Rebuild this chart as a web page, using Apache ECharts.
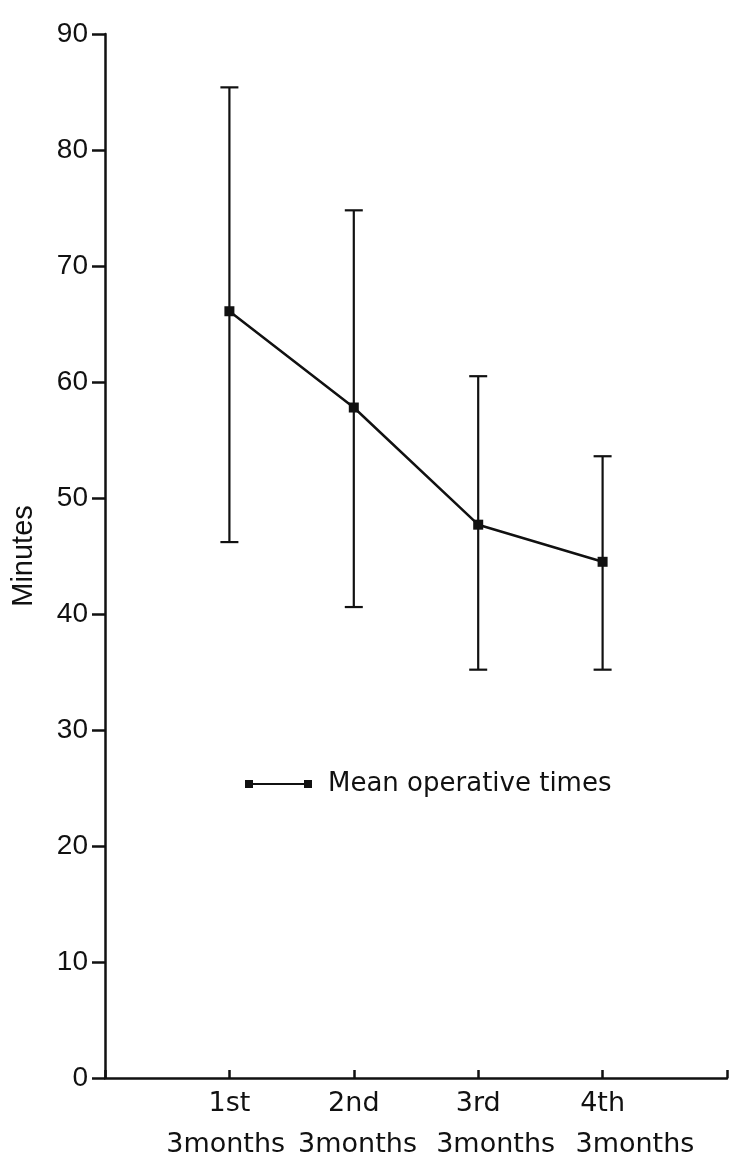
<!DOCTYPE html>
<html>
<head>
<meta charset="utf-8">
<script src="https://cdn.jsdelivr.net/npm/echarts@6/dist/echarts.min.js"></script>
<style>
html,body{margin:0;padding:0;background:#fff;}
#chart{width:730px;height:1158px;}
</style>
</head>
<body>
<div id="chart"></div>
<script>
const categories = ['1st', '2nd', '3rd', '4th'];
const periodLabels = ['3months', '3months', '3months', '3months'];
const meanTimes = [66.1, 57.8, 47.7, 44.5];
const upperBounds = [85.4, 74.8, 60.5, 53.6];
const lowerBounds = [46.2, 40.6, 35.2, 35.2];
const seriesName = 'Mean operative times';
const yAxisName = 'Minutes';

// label position tweaks for the second text row (presentation only)
const periodLabelPos = [0.97, 2.03, 3.14, 4.26];

const meanData = meanTimes.map((v, i) => [i + 1, v]);
const errData = meanTimes.map((v, i) => [i + 1, lowerBounds[i], upperBounds[i]]);

const chart = echarts.init(document.getElementById('chart'), null, {renderer: 'canvas'});
const ink = '#111';

chart.setOption({
  backgroundColor: '#fff',
  animation: false,
  grid: {left: 105, right: 3, top: 34, bottom: 78, containLabel: false},
  legend: {
    data: [seriesName],
    left: 240,
    top: 766,
    itemWidth: 67,
    itemHeight: 8,
    icon: 'path://M0,0H8V8H0Z M59,0H67V8H59Z M8,3H59V5H8Z',
    textStyle: {fontFamily: 'DejaVu Sans', fontSize: 26, color: ink, padding: [0, 0, 0, 11]},
    itemStyle: {color: ink}
  },
  xAxis: [{
    type: 'value',
    min: 0, max: 5, interval: 1,
    axisLine: {show: true, lineStyle: {color: ink, width: 2.5}},
    axisTick: {show: true, inside: true, length: 8, lineStyle: {color: ink, width: 2.5}},
    splitLine: {show: false},
    axisLabel: {
      margin: 12,
      fontFamily: 'DejaVu Sans', fontSize: 27, color: ink,
      formatter: v => (v >= 1 && v <= categories.length) ? categories[v - 1] : ''
    }
  }, {
    type: 'value',
    position: 'bottom',
    min: 0, max: 5,
    axisLine: {show: false},
    axisTick: {show: false},
    splitLine: {show: false},
    axisLabel: {
      margin: 53,
      customValues: periodLabelPos,
      fontFamily: 'DejaVu Sans', fontSize: 27, color: ink,
      formatter: (v) => periodLabels[periodLabelPos.indexOf(v)] || periodLabels[0]
    }
  }],
  yAxis: {
    type: 'value',
    min: 0, max: 90, interval: 10,
    name: yAxisName,
    nameLocation: 'middle',
    nameRotate: 90,
    nameGap: 67,
    nameTextStyle: {fontFamily: 'Liberation Sans', fontSize: 29, color: ink},
    axisLine: {show: true, lineStyle: {color: ink, width: 2.5}},
    axisTick: {show: true, length: 13, lineStyle: {color: ink, width: 2.5}},
    splitLine: {show: false},
    axisLabel: {margin: 17, fontFamily: 'Liberation Sans', fontSize: 28, color: ink}
  },
  series: [{
    type: 'custom',
    name: 'errors',
    xAxisIndex: 0,
    data: errData,
    silent: true,
    renderItem: function (params, api) {
      const x = api.value(0);
      const pLo = api.coord([x, api.value(1)]);
      const pHi = api.coord([x, api.value(2)]);
      const hw = 9;
      const st = {stroke: ink, lineWidth: 2.2};
      return {
        type: 'group',
        children: [
          {type: 'line', shape: {x1: pHi[0], y1: pHi[1], x2: pLo[0], y2: pLo[1]}, style: st},
          {type: 'line', shape: {x1: pHi[0] - hw, y1: pHi[1], x2: pHi[0] + hw, y2: pHi[1]}, style: st},
          {type: 'line', shape: {x1: pLo[0] - hw, y1: pLo[1], x2: pLo[0] + hw, y2: pLo[1]}, style: st}
        ]
      };
    }
  }, {
    type: 'line',
    name: seriesName,
    xAxisIndex: 0,
    data: meanData,
    symbol: 'rect',
    symbolSize: 10,
    lineStyle: {color: ink, width: 2.5},
    itemStyle: {color: ink}
  }]
});
</script>
</body>
</html>
